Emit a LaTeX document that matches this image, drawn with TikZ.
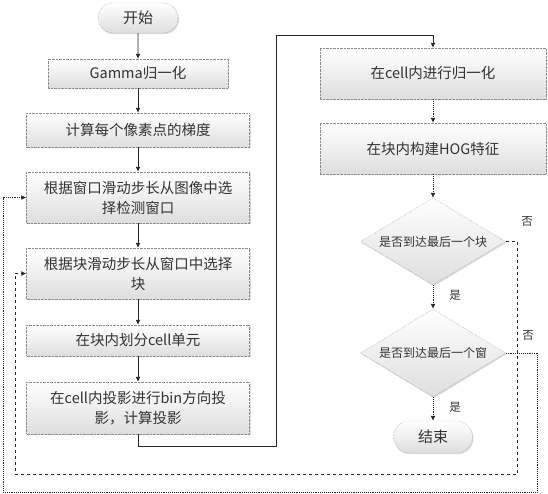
\documentclass[tikz,border=0pt]{standalone}
\usepackage{fontspec}
\setmainfont{Noto Sans CJK SC}
\usetikzlibrary{arrows.meta,shapes.geometric,shapes.misc,shadows}

\tikzset{
	box/.style={draw=black!45, densely dotted, top color=white, bottom color=black!13,
		drop shadow={shadow xshift=1pt, shadow yshift=-1.2pt, opacity=0.35, fill=black!40},
		text=black!80, font=\fontsize{14.5}{20}\selectfont, align=center, inner sep=0pt},
	term/.style={box, rounded rectangle, font=\fontsize{15}{18}\selectfont},
	test/.style={box, diamond, aspect=1.67, font=\fontsize{12}{14}\selectfont},
	arr/.style={-{Latex[length=5pt,width=5pt]}, draw=black!85, line width=0.9pt},
	lbl/.style={text=black!80, font=\fontsize{11.5}{13}\selectfont, inner sep=0pt},
}

\begin{document}
\begin{tikzpicture}[x=1pt, y=-1pt]
		%%%%% START %%%%%
		\useasboundingbox (0,0) rectangle (548,493);
		
		\node[term, minimum width=80pt, minimum height=30pt] (start) at (138,18) {开始};
		\node[box, minimum width=180pt, minimum height=29pt] (gamma) at (138,73.5) {Gamma归一化};
		\node[box, minimum width=223pt, minimum height=34pt] (grad) at (138,130) {计算每个像素点的梯度};
		\node[box, minimum width=223pt, minimum height=51pt] (win) at (138,197.5) {根据窗口滑动步长从图像中选\\择检测窗口};
		\node[box, minimum width=223pt, minimum height=51pt] (blk) at (138,273.5) {根据块滑动步长从窗口中选择\\块};
		\node[box, minimum width=223pt, minimum height=31pt] (cell) at (138,340.5) {在块内划分cell单元};
		\node[box, minimum width=223pt, minimum height=52pt] (proj) at (138,408) {在cell内投影进行bin方向投\\影，计算投影};
		
		\node[box, minimum width=226pt, minimum height=51pt] (norm) at (433,73.5) {在cell内进行归一化};
		\node[box, minimum width=226pt, minimum height=51pt] (hog) at (433,148.5) {在块内构建HOG特征};
		\node[test, minimum width=145pt, minimum height=87pt] (lastblk) at (433,241.5) {是否到达最后一个块};
		\node[test, minimum width=145pt, minimum height=88pt] (lastwin) at (433,353) {是否到达最后一个窗};
		\node[term, minimum width=79pt, minimum height=32pt] (stop) at (433,437) {结束};
		
		\draw[arr] (start) -- (gamma);
		\draw[arr] (gamma) -- (grad);
		\draw[arr] (grad) -- (win);
		\draw[arr] (win) -- (blk);
		\draw[arr] (blk) -- (cell);
		\draw[arr] (cell) -- (proj);
		
		\coordinate (up) at (276,35);
		\draw[arr] (proj.south) -- ++(0,12) -| (up) -| (norm.north);
		
		\draw[arr, densely dotted] (norm) -- (hog);
		\draw[arr, densely dotted] (hog) -- (lastblk);
		\draw[arr, densely dotted] (lastblk) -- (lastwin);
		\draw[arr, densely dotted] (lastwin) -- (stop);
		
		\coordinate (back1) at (15,474);
		\coordinate (back2) at (3,492);
		\draw[arr, dashed] (lastblk.east) -- ++(12,0) |- (back1) |- (blk.west);
		\draw[arr, densely dotted] (lastwin.east) -- ++(32,0) |- (back2) |- (win.west);
		
		\node[lbl] (no1) at (527,221) {否};
		\node[lbl] (yes1) at (455,295) {是};
		\node[lbl] (no2) at (528,335) {否};
		\node[lbl] (yes2) at (455,407) {是};
		
		%%%%% END %%%%%
	\end{tikzpicture}
\end{document}
